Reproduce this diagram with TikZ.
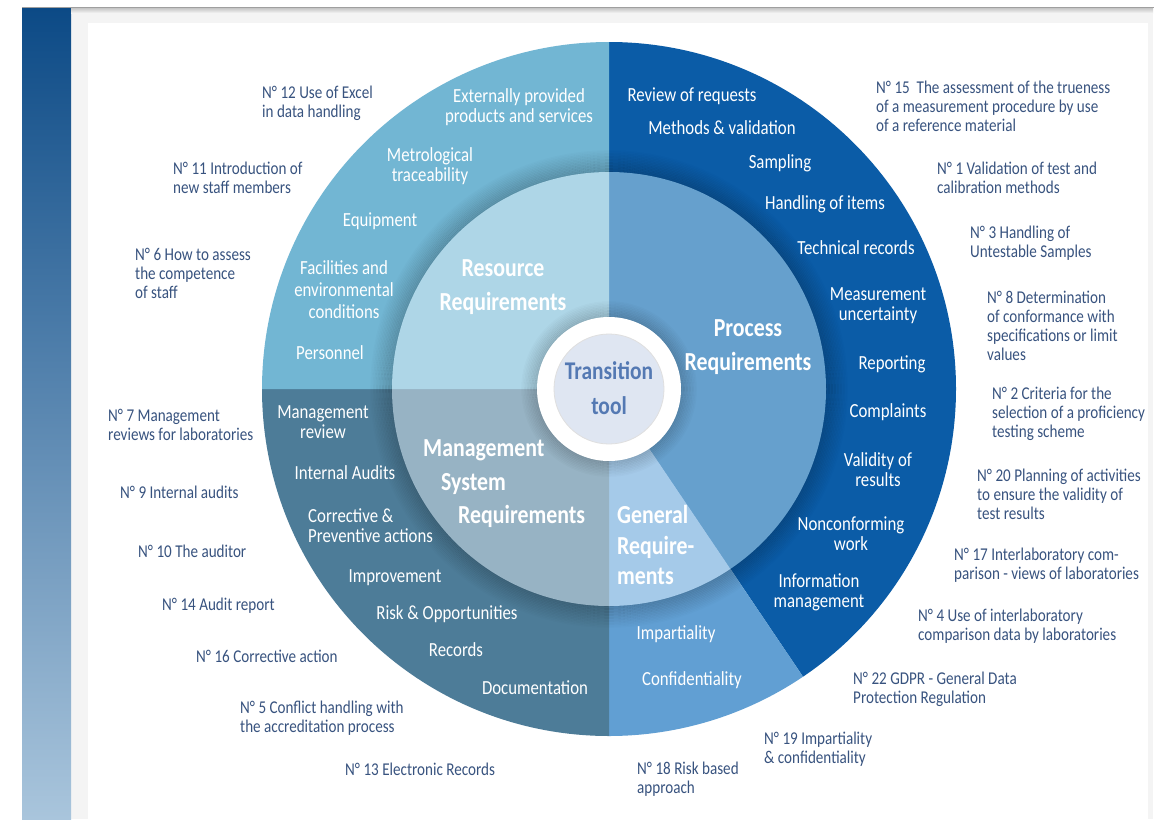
\documentclass[tikz,border=0pt]{standalone}
\usepackage{fontspec}
\setmainfont{Carlito}[FakeStretch=0.84]
\usepackage{tikz}
\usetikzlibrary{calc}
\definecolor{labelblue}{HTML}{38537F}
\definecolor{resouter}{HTML}{72B6D3}
\definecolor{resinner}{HTML}{AED6E7}
\definecolor{procouter}{HTML}{0B5CA7}
\definecolor{procinner}{HTML}{66A0CD}
\definecolor{genouter}{HTML}{619FD3}
\definecolor{geninner}{HTML}{A5CAE9}
\definecolor{mgmtouter}{HTML}{4D7C98}
\definecolor{mgmtinner}{HTML}{97B3C4}
\definecolor{hubdisc}{HTML}{DFE6F2}
\definecolor{hubtext}{HTML}{5479B3}
\definecolor{stripdark}{HTML}{0C4A86}
\definecolor{stripmid}{HTML}{5D8DB8}
\definecolor{striplight}{HTML}{A9C5DC}
\definecolor{framegrey}{HTML}{F4F4F4}

\begin{document}
\begin{tikzpicture}[x=1pt, y=-1pt,
  note/.style={anchor=base west, align=left, inner sep=0pt, text=labelblue, font={\fontsize{18}{19}\selectfont}},
  item/.style={anchor=base, align=center, inner sep=0pt, text=white, font={\fontsize{20}{20.5}\selectfont}},
  area/.style={anchor=base, align=center, inner sep=0pt, text=white, font={\bfseries\fontsize{26}{34}\selectfont}},
  hub/.style={anchor=base, align=center, inner sep=0pt, text=hubtext, font={\bfseries\fontsize{25.5}{35}\selectfont}}]
  \useasboundingbox (0,0) rectangle (1156,819);
  \fill[white] (0,0) rectangle (1156,819);
  \fill[framegrey] (71,8) rectangle (1153,819);
  \fill[white] (88,23) rectangle (1148,819);
  \shade[top color=stripdark, middle color=stripmid, bottom color=striplight] (22,8) rectangle (71,819);
  \shade[top color=gray!45, bottom color=framegrey] (71,8) rectangle (1153,13);
  \draw[gray!75, line width=1.5pt] (22,7.5) -- (1154,7.5);

  \coordinate (c) at (609,389);
  \fill[procouter] (c) -- ++(-90:347) arc[start angle=-90, end angle=56, radius=347] -- cycle;
  \fill[genouter] (c) -- ++(56:347) arc[start angle=56, end angle=90, radius=347] -- cycle;
  \fill[mgmtouter] (c) -- ++(90:347) arc[start angle=90, end angle=180, radius=347] -- cycle;
  \fill[resouter] (c) -- ++(180:347) arc[start angle=180, end angle=270, radius=347] -- cycle;
  \foreach \k [evaluate=\k as \op using 0.012*(15-\k), evaluate=\k as \rr using 217+1.5*\k] in {0,...,14}
    \draw[black, opacity=\op, line width=1.6pt] (c) circle[radius=\rr];
  \fill[procinner] (c) -- ++(-90:217) arc[start angle=-90, end angle=56, radius=217] -- cycle;
  \fill[geninner] (c) -- ++(56:217) arc[start angle=56, end angle=90, radius=217] -- cycle;
  \fill[mgmtinner] (c) -- ++(90:217) arc[start angle=90, end angle=180, radius=217] -- cycle;
  \fill[resinner] (c) -- ++(180:217) arc[start angle=180, end angle=270, radius=217] -- cycle;
  \foreach \k [evaluate=\k as \op using 0.014*(11-\k), evaluate=\k as \rr using 72+1.5*\k] in {0,...,10}
    \draw[black, opacity=\op, line width=1.6pt] (c) circle[radius=\rr];
  \fill[white] (c) circle[radius=72];
  \fill[hubdisc] (c) circle[radius=55];
  \draw[gray!25, line width=0.8pt] (c) circle[radius=55];

  \node[hub] (hub) at (609,414.5) {Transition\\tool};
  \node[area] (resource) at (503,310.5) {Resource\\Requirements};
  \node[area] (process) at (748,370.5) {Process\\Requirements};
  \node[area, anchor=base west] (mgmt1) at (423,456) {Management};
  \node[area, anchor=base west] (mgmt2) at (441,490) {System};
  \node[area, anchor=base west] (mgmt3) at (458,523) {Requirements};
  \node[area, anchor=base west, align=left, font={\bfseries\fontsize{26}{30.5}\selectfont}] (general) at (617,584.5) {General\\Require-\\ments};

  \node[item] (external) at (519,122.5) {Externally provided\\products and services};
  \node[item] (traceability) at (430,181.5) {Metrological\\traceability};
  \node[item] (equipment) at (380,226) {Equipment};
  \node[item, font={\fontsize{20}{22}\selectfont}] (facilities) at (344,318.5) {Facilities and\\environmental\\conditions};
  \node[item] (personnel) at (330,359) {Personnel};

  \node[item] (review) at (323,438.5) {Management\\review};
  \node[item] (audits) at (345,479) {Internal Audits};
  \node[item, anchor=base west, align=left] (corrective) at (308,542.5) {Corrective \&\\Preventive actions};
  \node[item] (improvement) at (395,582) {Improvement};
  \node[item] (risk) at (447,619) {Risk \& Opportunities};
  \node[item] (records) at (456,656) {Records};
  \node[item] (documentation) at (535,694) {Documentation};

  \node[item] (impartiality) at (676,639) {Impartiality};
  \node[item] (confidentiality) at (692,685) {Confidentiality};

  \node[item] (requests) at (692,101) {Review of requests};
  \node[item] (methods) at (722,134) {Methods \& validation};
  \node[item] (sampling) at (780,168) {Sampling};
  \node[item] (handling) at (825,209) {Handling of items};
  \node[item] (technical) at (856,254) {Technical records};
  \node[item] (uncertainty) at (878,320.5) {Measurement\\uncertainty};
  \node[item] (reporting) at (892,369) {Reporting};
  \node[item] (complaints) at (888,417) {Complaints};
  \node[item] (validity) at (878,486.5) {Validity of\\results};
  \node[item] (nonconforming) at (851,550.5) {Nonconforming\\work};
  \node[item] (information) at (819,607.5) {Information\\management};

  \node[note] (n12) at (262,117) {N° 12 Use of Excel\\in data handling};
  \node[note] (n11) at (173,193) {N° 11 Introduction of\\new staff members};
  \node[note] (n6) at (135,298) {N° 6 How to assess\\the competence\\of staff};
  \node[note] (n7) at (108,440) {N° 7 Management\\reviews for laboratories};
  \node[note] (n9) at (120,498) {N° 9 Internal audits};
  \node[note] (n10) at (138,557) {N° 10 The auditor};
  \node[note] (n14) at (162,610) {N° 14 Audit report};
  \node[note] (n16) at (196,662) {N° 16 Corrective action};
  \node[note] (n5) at (240,732) {N° 5 Conflict handling with\\the accreditation process};
  \node[note] (n13) at (345,775) {N° 13 Electronic Records};

  \node[note] (n15) at (876,131) {N° 15\ \ The assessment of the trueness\\of a measurement procedure by use\\of a reference material};
  \node[note] (n1) at (937,193) {N° 1 Validation of test and\\calibration methods};
  \node[note] (n3) at (970,257) {N° 3 Handling of\\Untestable Samples};
  \node[note] (n8) at (987,360) {N° 8 Determination\\of conformance with\\specifications or limit\\values};
  \node[note] (n2) at (992,437) {N° 2 Criteria for the\\selection of a proficiency\\testing scheme};
  \node[note] (n20) at (977,519) {N° 20 Planning of activities\\to ensure the validity of\\test results};
  \node[note] (n17) at (954,579) {N° 17 Interlaboratory com-\\parison - views of laboratories};
  \node[note] (n4) at (918,640) {N° 4 Use of interlaboratory\\comparison data by laboratories};
  \node[note] (n22) at (853,703) {N° 22 GDPR - General Data\\Protection Regulation};
  \node[note] (n19) at (764,763) {N° 19 Impartiality\\\& confidentiality};
  \node[note] (n18) at (637,793) {N° 18 Risk based\\approach};
\end{tikzpicture}
\end{document}
